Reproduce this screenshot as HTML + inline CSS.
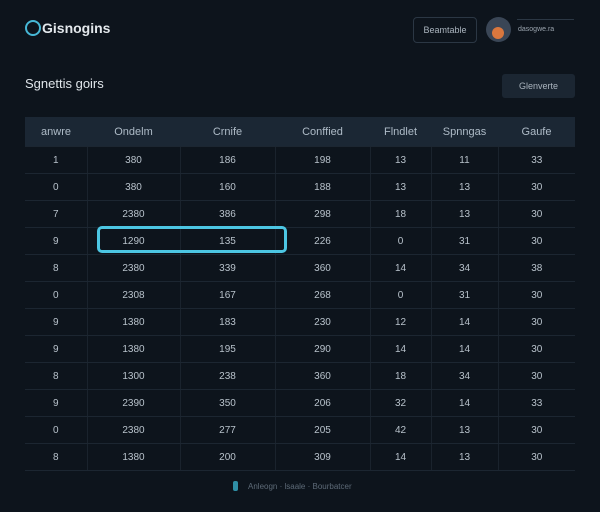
<!DOCTYPE html>
<html><head><style>
body{margin:0;width:600px;height:512px;background:#0d141c;font-family:"Liberation Sans",sans-serif;color:#c9d2da;position:relative;overflow:hidden}
.a{position:absolute}
table{position:absolute;left:25px;top:117px;width:550px;border-collapse:collapse;font-size:10px}
td,th{text-align:center;height:26px;padding:0;border-bottom:1px solid #1c2631;border-right:1px solid #1a232d}
td:last-child,th:last-child{border-right:none}
th{background:#1b2734;color:#aebbc7;font-weight:normal;font-size:11px;height:29px;border-right:none}
td{color:#b8c2cb}
</style></head><body>
<div class="a" style="left:25px;top:20px;width:16px;height:16px;border:2px solid #47b8d6;border-radius:50%;box-sizing:border-box"></div>
<div class="a" style="left:42px;top:20px;font-size:14px;font-weight:bold;color:#e3e8ec">Gisnogins</div>
<div class="a" style="left:413px;top:17px;width:62px;height:24px;border:1px solid #2b3744;border-radius:4px;font-size:9px;color:#aab4be;text-align:center;line-height:24px">Beamtable</div>
<div class="a" style="left:486px;top:17px;width:25px;height:25px;border-radius:50%;background:#3a4656"></div>
<div class="a" style="left:492px;top:27px;width:12px;height:12px;border-radius:50%;background:#d9773e"></div>
<div class="a" style="left:518px;top:26px;font-size:7px;color:#9aa4ae">dasogwe.ra</div>
<div class="a" style="left:517px;top:19px;width:57px;height:1px;background:#2b3744"></div>
<div class="a" style="left:25px;top:76px;font-size:13px;color:#dfe5ea">Sgnettis goirs</div>
<div class="a" style="left:502px;top:74px;width:73px;height:24px;background:#1b2632;border-radius:3px;font-size:9px;color:#aab4be;text-align:center;line-height:24px">Glenverte</div>
<table>
<tr><th style="width:62px">anwre</th><th style="width:93px">Ondelm</th><th style="width:95px">Crnife</th><th style="width:95px">Conffied</th><th style="width:61px">Flndlet</th><th style="width:67px">Spnngas</th><th>Gaufe</th></tr>
<tr><td>1</td><td>380</td><td>186</td><td>198</td><td>13</td><td>11</td><td>33</td></tr>
<tr><td>0</td><td>380</td><td>160</td><td>188</td><td>13</td><td>13</td><td>30</td></tr>
<tr><td>7</td><td>2380</td><td>386</td><td>298</td><td>18</td><td>13</td><td>30</td></tr>
<tr><td>9</td><td>1290</td><td>135</td><td>226</td><td>0</td><td>31</td><td>30</td></tr>
<tr><td>8</td><td>2380</td><td>339</td><td>360</td><td>14</td><td>34</td><td>38</td></tr>
<tr><td>0</td><td>2308</td><td>167</td><td>268</td><td>0</td><td>31</td><td>30</td></tr>
<tr><td>9</td><td>1380</td><td>183</td><td>230</td><td>12</td><td>14</td><td>30</td></tr>
<tr><td>9</td><td>1380</td><td>195</td><td>290</td><td>14</td><td>14</td><td>30</td></tr>
<tr><td>8</td><td>1300</td><td>238</td><td>360</td><td>18</td><td>34</td><td>30</td></tr>
<tr><td>9</td><td>2390</td><td>350</td><td>206</td><td>32</td><td>14</td><td>33</td></tr>
<tr><td>0</td><td>2380</td><td>277</td><td>205</td><td>42</td><td>13</td><td>30</td></tr>
<tr><td>8</td><td>1380</td><td>200</td><td>309</td><td>14</td><td>13</td><td>30</td></tr>
</table>
<div class="a" style="left:97px;top:226px;width:190px;height:27px;border:3px solid #4cc6e3;border-radius:5px;box-sizing:border-box"></div>
<div class="a" style="left:233px;top:481px;width:5px;height:10px;background:#2f8fa6;border-radius:2px"></div>
<div class="a" style="left:248px;top:482px;font-size:8px;color:#5d6a77">Anleogn · lsaale · Bourbatcer</div>
</body></html>
